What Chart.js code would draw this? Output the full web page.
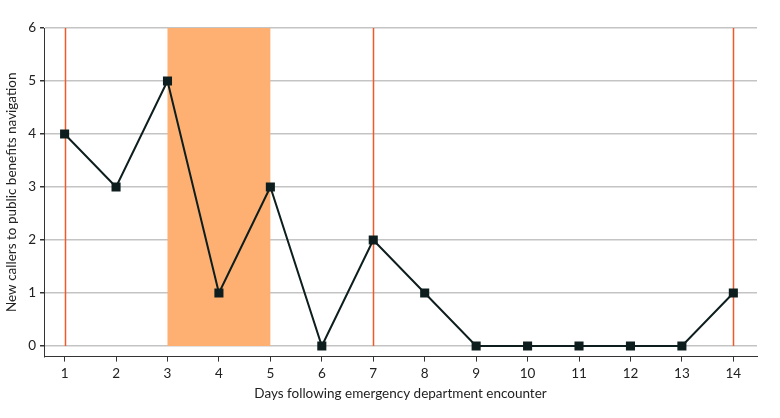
<!DOCTYPE html>
<html><head><meta charset="utf-8">
<script src="https://cdn.jsdelivr.net/npm/chart.js@4.4.0/dist/chart.umd.min.js"></script>
<style>html,body{margin:0;padding:0;background:#fff}#wrap{width:780px;height:418px}</style>
</head><body><div id="wrap"><canvas id="c" width="780" height="418"></canvas></div>
<script>
const days = [1,2,3,4,5,6,7,8,9,10,11,12,13,14];
const callers = [4,3,5,1,3,0,2,1,0,0,0,0,0,1];
const yTicks = [0,1,2,3,4,5,6];
const redLineDays = [1,7,14];
const bandStart = 3, bandEnd = 5;
const bandTop = 6, bandBottom = 0;

const overlay = {
  id:'overlay',
  beforeDatasetsDraw(chart){
    const {ctx, scales:{x,y}} = chart;
    ctx.save();
    ctx.fillStyle = '#FDB072';
    const x0 = x.getPixelForValue(bandStart), x1 = x.getPixelForValue(bandEnd);
    const yt = y.getPixelForValue(bandTop), yb = y.getPixelForValue(bandBottom);
    ctx.fillRect(x0, yt, x1-x0, yb-yt);
    ctx.strokeStyle = '#F05A28';
    ctx.lineWidth = 1.5;
    redLineDays.forEach(d=>{
      const px = Math.round(x.getPixelForValue(d))+0.5;
      ctx.beginPath(); ctx.moveTo(px, yt); ctx.lineTo(px, yb); ctx.stroke();
    });
    ctx.restore();
  }
};

new Chart(document.getElementById('c'), {
  type:'line',
  data:{datasets:[{
    data: days.map((d,i)=>({x:d,y:callers[i]})),
    borderColor:'#0E1E1E', borderWidth:2,
    pointStyle:'rect', pointRadius:5, pointBackgroundColor:'#0E1E1E', pointBorderColor:'#0E1E1E',
    tension:0, clip:false
  }]},
  options:{
    responsive:false, animation:false,
    layout:{padding:{top:28,right:23,left:0,bottom:12}},
    plugins:{legend:{display:false}, tooltip:{enabled:false}},
    scales:{
      x:{type:'linear', min:0.6, max:14.46,
        afterBuildTicks(s){ s.ticks = days.map(v=>({value:v})); },
        grid:{drawOnChartArea:false, tickColor:'#333', tickLength:5},
        border:{color:'#333', width:1},
        ticks:{color:'#222', font:{family:'Lato', size:13.5}, padding:4, maxRotation:0, autoSkip:false},
        title:{display:true, text:'Days following emergency department encounter', color:'#222', font:{family:'Lato', size:13.5}, padding:{top:0}}
      },
      y:{min:-0.2, max:6,
        afterBuildTicks(s){ s.ticks = yTicks.map(v=>({value:v})); },
        grid:{color:'#C4C4C4', lineWidth:1.5, tickColor:'#333', tickLength:4},
        border:{color:'#333', width:1},
        ticks:{color:'#222', font:{family:'Lato', size:13.5}, padding:4},
        title:{display:true, text:'New callers to public benefits navigation', color:'#222', font:{family:'Lato', size:13.5}, padding:{bottom:4}}
      }
    }
  },
  plugins:[overlay]
});
</script></body></html>
